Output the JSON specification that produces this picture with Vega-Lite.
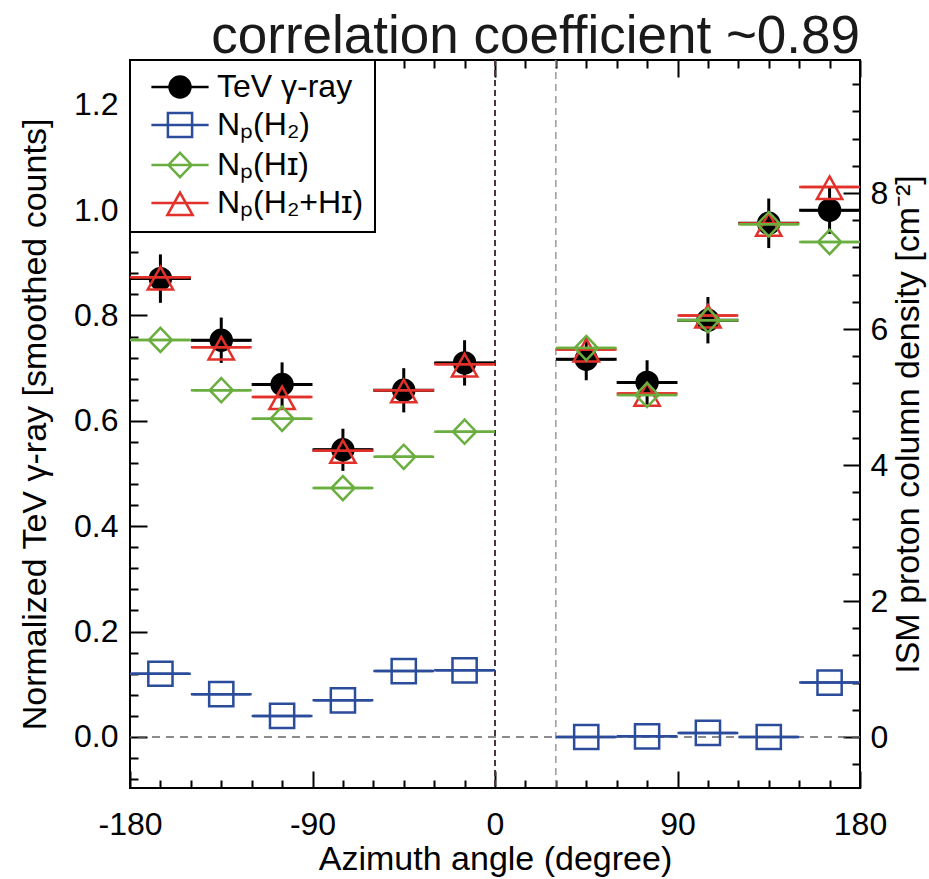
{
  "$schema": "https://vega.github.io/schema/vega-lite/v6.json",
  "width": 730,
  "height": 728,
  "autosize": {"type": "none"},
  "padding": {"left": 130, "top": 60, "right": 69, "bottom": 91},
  "background": "white",
  "title": {
    "text": "correlation coefficient ~0.89",
    "anchor": "end",
    "frame": "group",
    "font": "Liberation Sans",
    "fontSize": 53,
    "fontWeight": "normal",
    "color": "#1a1a1a",
    "offset": -5
  },
  "datasets": {
    "gamma": [
      {"series": "TeV γ-ray", "az": -165, "lo": -180, "hi": -150, "v": 0.870, "vlo": 0.824, "vhi": 0.916},
      {"series": "TeV γ-ray", "az": -135, "lo": -150, "hi": -120, "v": 0.753, "vlo": 0.710, "vhi": 0.796},
      {"series": "TeV γ-ray", "az": -105, "lo": -120, "hi": -90, "v": 0.669, "vlo": 0.627, "vhi": 0.711},
      {"series": "TeV γ-ray", "az": -75, "lo": -90, "hi": -60, "v": 0.545, "vlo": 0.505, "vhi": 0.585},
      {"series": "TeV γ-ray", "az": -45, "lo": -60, "hi": -30, "v": 0.658, "vlo": 0.616, "vhi": 0.700},
      {"series": "TeV γ-ray", "az": -15, "lo": -30, "hi": 0, "v": 0.710, "vlo": 0.667, "vhi": 0.753},
      {"series": "TeV γ-ray", "az": 45, "lo": 30, "hi": 60, "v": 0.717, "vlo": 0.677, "vhi": 0.757},
      {"series": "TeV γ-ray", "az": 75, "lo": 60, "hi": 90, "v": 0.673, "vlo": 0.631, "vhi": 0.715},
      {"series": "TeV γ-ray", "az": 105, "lo": 90, "hi": 120, "v": 0.791, "vlo": 0.747, "vhi": 0.835},
      {"series": "TeV γ-ray", "az": 135, "lo": 120, "hi": 150, "v": 0.975, "vlo": 0.928, "vhi": 1.022},
      {"series": "TeV γ-ray", "az": 165, "lo": 150, "hi": 180, "v": 1.000, "vlo": 0.955, "vhi": 1.045}
    ],
    "ism": [
      {"series": "Nₚ(H₂)", "az": -165, "lo": -180, "hi": -150, "v": 0.93},
      {"series": "Nₚ(H₂)", "az": -135, "lo": -150, "hi": -120, "v": 0.63},
      {"series": "Nₚ(H₂)", "az": -105, "lo": -120, "hi": -90, "v": 0.31},
      {"series": "Nₚ(H₂)", "az": -75, "lo": -90, "hi": -60, "v": 0.54},
      {"series": "Nₚ(H₂)", "az": -45, "lo": -60, "hi": -30, "v": 0.97},
      {"series": "Nₚ(H₂)", "az": -15, "lo": -30, "hi": 0, "v": 0.98},
      {"series": "Nₚ(H₂)", "az": 45, "lo": 30, "hi": 60, "v": 0.0},
      {"series": "Nₚ(H₂)", "az": 75, "lo": 60, "hi": 90, "v": 0.01},
      {"series": "Nₚ(H₂)", "az": 105, "lo": 90, "hi": 120, "v": 0.06},
      {"series": "Nₚ(H₂)", "az": 135, "lo": 120, "hi": 150, "v": 0.0},
      {"series": "Nₚ(H₂)", "az": 165, "lo": 150, "hi": 180, "v": 0.80},
      {"series": "Nₚ(H₂+Hɪ)", "az": -165, "lo": -180, "hi": -150, "v": 6.76},
      {"series": "Nₚ(H₂+Hɪ)", "az": -135, "lo": -150, "hi": -120, "v": 5.73},
      {"series": "Nₚ(H₂+Hɪ)", "az": -105, "lo": -120, "hi": -90, "v": 5.00},
      {"series": "Nₚ(H₂+Hɪ)", "az": -75, "lo": -90, "hi": -60, "v": 4.21},
      {"series": "Nₚ(H₂+Hɪ)", "az": -45, "lo": -60, "hi": -30, "v": 5.10},
      {"series": "Nₚ(H₂+Hɪ)", "az": -15, "lo": -30, "hi": 0, "v": 5.48},
      {"series": "Nₚ(H₂+Hɪ)", "az": 45, "lo": 30, "hi": 60, "v": 5.70},
      {"series": "Nₚ(H₂+Hɪ)", "az": 75, "lo": 60, "hi": 90, "v": 5.05},
      {"series": "Nₚ(H₂+Hɪ)", "az": 105, "lo": 90, "hi": 120, "v": 6.20},
      {"series": "Nₚ(H₂+Hɪ)", "az": 135, "lo": 120, "hi": 150, "v": 7.55},
      {"series": "Nₚ(H₂+Hɪ)", "az": 165, "lo": 150, "hi": 180, "v": 8.09},
      {"series": "Nₚ(Hɪ)", "az": -165, "lo": -180, "hi": -150, "v": 5.84},
      {"series": "Nₚ(Hɪ)", "az": -135, "lo": -150, "hi": -120, "v": 5.10},
      {"series": "Nₚ(Hɪ)", "az": -105, "lo": -120, "hi": -90, "v": 4.68},
      {"series": "Nₚ(Hɪ)", "az": -75, "lo": -90, "hi": -60, "v": 3.66},
      {"series": "Nₚ(Hɪ)", "az": -45, "lo": -60, "hi": -30, "v": 4.12},
      {"series": "Nₚ(Hɪ)", "az": -15, "lo": -30, "hi": 0, "v": 4.49},
      {"series": "Nₚ(Hɪ)", "az": 45, "lo": 30, "hi": 60, "v": 5.72},
      {"series": "Nₚ(Hɪ)", "az": 75, "lo": 60, "hi": 90, "v": 5.03},
      {"series": "Nₚ(Hɪ)", "az": 105, "lo": 90, "hi": 120, "v": 6.13},
      {"series": "Nₚ(Hɪ)", "az": 135, "lo": 120, "hi": 150, "v": 7.54},
      {"series": "Nₚ(Hɪ)", "az": 165, "lo": 150, "hi": 180, "v": 7.28}
    ]
  },
  "layer": [
    {
      "layer": [
        {
          "data": {"values": [{"v": 0}]},
          "mark": {"type": "rule", "color": "#666666", "strokeDash": [8, 6], "strokeWidth": 1.5},
          "encoding": {
            "y": {
              "field": "v", "type": "quantitative",
              "title": "Normalized TeV γ-ray [smoothed counts]",
              "scale": {"domain": [-0.097, 1.285], "nice": false, "zero": false},
              "axis": {
                "orient": "left",
                "values": [-0.08, -0.04, 0, 0.04, 0.08, 0.12, 0.16, 0.2, 0.24, 0.28, 0.32, 0.36, 0.4, 0.44, 0.48, 0.52, 0.56, 0.6, 0.64, 0.68, 0.72, 0.76, 0.8, 0.84, 0.88, 0.92, 0.96, 1, 1.04, 1.08, 1.12, 1.16, 1.2, 1.24, 1.28],
                "tickCount": 200,
                "labelExpr": "abs(round(datum.value*100)) % 20 === 0 ? format(datum.value, '.1f') : ''",
                "labelFontSize": {"condition": {"test": "abs(round(datum.value*100)) % 20 === 0", "value": 32}, "value": 1},
                "labelOverlap": false,
                "grid": true,
                "gridDash": {"condition": {"test": "abs(round(datum.value*100)) % 20 === 0", "value": [17, 3000]}, "value": [8, 3000]},
                "labelPadding": 12,
                "titlePadding": 21
              }
            }
          }
        },
        {
          "data": {"values": [{"az": 0}]},
          "mark": {"type": "rule", "color": "#4a3838", "strokeDash": [6, 4], "strokeWidth": 2},
          "encoding": {
            "x": {
              "field": "az", "type": "quantitative",
              "title": "Azimuth angle (degree)",
              "scale": {"domain": [-180, 180], "nice": false, "zero": false},
              "axis": {
                "orient": "bottom",
                "values": [-180, -165, -150, -135, -120, -105, -90, -75, -60, -45, -30, -15, 0, 15, 30, 45, 60, 75, 90, 105, 120, 135, 150, 165, 180],
                "tickCount": 200,
                "labelExpr": "datum.value % 90 === 0 ? '' + datum.value : ''",
                "labelFontSize": {"condition": {"test": "datum.value % 90 === 0", "value": 32}, "value": 1},
                "labelOverlap": false,
                "grid": true,
                "gridDash": {"condition": {"test": "datum.value % 90 === 0", "value": [17, 694, 17, 3000]}, "value": [8, 712, 8, 3000]},
                "labelPadding": 21,
                "titlePadding": 2
              }
            }
          }
        },
        {
          "data": {"values": [{"az": 30}]},
          "mark": {"type": "rule", "color": "#9a9a9a", "strokeDash": [7, 5], "strokeWidth": 1.5},
          "encoding": {
            "x": {"field": "az", "type": "quantitative", "title": "Azimuth angle (degree)", "scale": {"domain": [-180, 180], "nice": false, "zero": false}}
          }
        },
        {
          "data": {"name": "gamma"},
          "mark": {"type": "rule", "color": "black", "strokeWidth": 3},
          "encoding": {
            "x": {"field": "lo", "type": "quantitative", "title": "Azimuth angle (degree)", "scale": {"domain": [-180, 180], "nice": false, "zero": false}},
            "x2": {"field": "hi"},
            "y": {"field": "v", "type": "quantitative", "title": "Normalized TeV γ-ray [smoothed counts]", "scale": {"domain": [-0.097, 1.285], "nice": false, "zero": false}}
          }
        },
        {
          "data": {"name": "gamma"},
          "mark": {"type": "rule", "color": "black", "strokeWidth": 3},
          "encoding": {
            "x": {"field": "az", "type": "quantitative", "title": "Azimuth angle (degree)", "scale": {"domain": [-180, 180], "nice": false, "zero": false}},
            "y": {"field": "vlo", "type": "quantitative", "title": "Normalized TeV γ-ray [smoothed counts]", "scale": {"domain": [-0.097, 1.285], "nice": false, "zero": false}},
            "y2": {"field": "vhi"}
          }
        },
        {
          "data": {"name": "gamma"},
          "mark": {"type": "point", "size": 484, "strokeWidth": 2.5, "opacity": 1},
          "encoding": {
            "x": {"field": "az", "type": "quantitative", "title": "Azimuth angle (degree)", "scale": {"domain": [-180, 180], "nice": false, "zero": false}},
            "y": {"field": "v", "type": "quantitative", "title": "Normalized TeV γ-ray [smoothed counts]", "scale": {"domain": [-0.097, 1.285], "nice": false, "zero": false}},
            "shape": {
              "field": "series", "type": "nominal",
              "scale": {"domain": ["TeV γ-ray", "Nₚ(H₂)", "Nₚ(Hɪ)", "Nₚ(H₂+Hɪ)"], "range": ["M-2.6,0H2.6M0.95,0A0.95,0.95,0,1,1,-0.95,0A0.95,0.95,0,1,1,0.95,0Z", "M-2.6,0H2.6M-1.1,-1.1H1.1V1.1H-1.1Z", "M-2.6,0H2.6M0,-1.1L1.05,0L0,1.1L-1.05,0Z", "M-2.6,0H2.6M0,-0.95L1.15,1.1H-1.15Z"]},
              "legend": {"title": null}
            },
            "stroke": {
              "field": "series", "type": "nominal",
              "scale": {"domain": ["TeV γ-ray", "Nₚ(H₂)", "Nₚ(Hɪ)", "Nₚ(H₂+Hɪ)"], "range": ["#000000", "#2b4c9b", "#6aae3f", "#e2302b"]},
              "legend": {"title": null}
            },
            "fill": {
              "field": "series", "type": "nominal",
              "scale": {"domain": ["TeV γ-ray", "Nₚ(H₂)", "Nₚ(Hɪ)", "Nₚ(H₂+Hɪ)"], "range": ["#000000", "transparent", "transparent", "transparent"]},
              "legend": {"title": null}
            }
          }
        }
      ]
    },
    {
      "layer": [
        {
          "data": {"name": "ism"},
          "mark": {"type": "rule", "strokeWidth": 2.5},
          "encoding": {
            "x": {"field": "lo", "type": "quantitative", "title": "Azimuth angle (degree)", "scale": {"domain": [-180, 180], "nice": false, "zero": false}},
            "x2": {"field": "hi"},
            "y": {
              "field": "v", "type": "quantitative",
              "title": "ISM proton column density [cm⁻²]",
              "scale": {"domain": [-0.75, 9.956], "nice": false, "zero": false},
              "axis": {
                "orient": "right",
                "values": [-0.4, 0, 0.4, 0.8, 1.2, 1.6, 2, 2.4, 2.8, 3.2, 3.6, 4, 4.4, 4.8, 5.2, 5.6, 6, 6.4, 6.8, 7.2, 7.6, 8, 8.4, 8.8, 9.2, 9.6],
                "tickCount": 200,
                "labelExpr": "abs(round(datum.value*10)) % 20 === 0 ? '' + round(datum.value) : ''",
                "labelFontSize": {"condition": {"test": "abs(round(datum.value*10)) % 20 === 0", "value": 32}, "value": 1},
                "labelOverlap": false,
                "grid": true,
                "gridDash": {"condition": {"test": "abs(round(datum.value*10)) % 20 === 0", "value": [17, 3000]}, "value": [8, 3000]},
                "labelPadding": 10,
                "titlePadding": 4,
                "titleAngle": 270,
                "titleBaseline": "top"
              }
            },
            "stroke": {
              "field": "series", "type": "nominal",
              "scale": {"domain": ["TeV γ-ray", "Nₚ(H₂)", "Nₚ(Hɪ)", "Nₚ(H₂+Hɪ)"], "range": ["#000000", "#2b4c9b", "#6aae3f", "#e2302b"]},
              "legend": {"title": null}
            }
          }
        },
        {
          "data": {"name": "ism"},
          "mark": {"type": "point", "size": 484, "strokeWidth": 2.5, "opacity": 1},
          "encoding": {
            "x": {"field": "az", "type": "quantitative", "title": "Azimuth angle (degree)", "scale": {"domain": [-180, 180], "nice": false, "zero": false}},
            "y": {"field": "v", "type": "quantitative", "title": "ISM proton column density [cm⁻²]", "scale": {"domain": [-0.75, 9.956], "nice": false, "zero": false}},
            "shape": {
              "field": "series", "type": "nominal",
              "scale": {"domain": ["TeV γ-ray", "Nₚ(H₂)", "Nₚ(Hɪ)", "Nₚ(H₂+Hɪ)"], "range": ["M-2.6,0H2.6M0.95,0A0.95,0.95,0,1,1,-0.95,0A0.95,0.95,0,1,1,0.95,0Z", "M-2.6,0H2.6M-1.1,-1.1H1.1V1.1H-1.1Z", "M-2.6,0H2.6M0,-1.1L1.05,0L0,1.1L-1.05,0Z", "M-2.6,0H2.6M0,-0.95L1.15,1.1H-1.15Z"]},
              "legend": {"title": null}
            },
            "stroke": {
              "field": "series", "type": "nominal",
              "scale": {"domain": ["TeV γ-ray", "Nₚ(H₂)", "Nₚ(Hɪ)", "Nₚ(H₂+Hɪ)"], "range": ["#000000", "#2b4c9b", "#6aae3f", "#e2302b"]},
              "legend": {"title": null}
            },
            "fill": {
              "field": "series", "type": "nominal",
              "scale": {"domain": ["TeV γ-ray", "Nₚ(H₂)", "Nₚ(Hɪ)", "Nₚ(H₂+Hɪ)"], "range": ["#000000", "transparent", "transparent", "transparent"]},
              "legend": {"title": null}
            }
          }
        }
      ]
    }
  ],
  "resolve": {"scale": {"y": "independent"}},
  "config": {
    "view": {"stroke": "black", "strokeWidth": 2},
    "font": "Liberation Sans",
    "axis": {
      "labelFont": "Liberation Sans",
      "labelColor": "black",
      "titleFont": "Liberation Sans",
      "titleFontSize": 34,
      "titleFontWeight": "normal",
      "titleColor": "black",
      "domain": false,
      "ticks": false,
      "tickSize": 0,
      "gridColor": "black",
      "gridWidth": 2,
      "gridOpacity": 1,
      "labelOverlap": false,
      "labelBound": false,
      "labelFlush": false
    },
    "legend": {
      "orient": "top-left",
      "offset": 0,
      "padding": 11,
      "fillColor": "white",
      "strokeColor": "black",
      "strokeWidth": 2,
      "labelFont": "Liberation Sans",
      "labelFontSize": 32,
      "labelColor": "black",
      "labelLimit": 400,
      "symbolSize": 484,
      "symbolStrokeWidth": 2.5,
      "symbolOffset": 23,
      "labelOffset": 21,
      "rowPadding": 4,
      "symbolOpacity": 1
    }
  }
}
